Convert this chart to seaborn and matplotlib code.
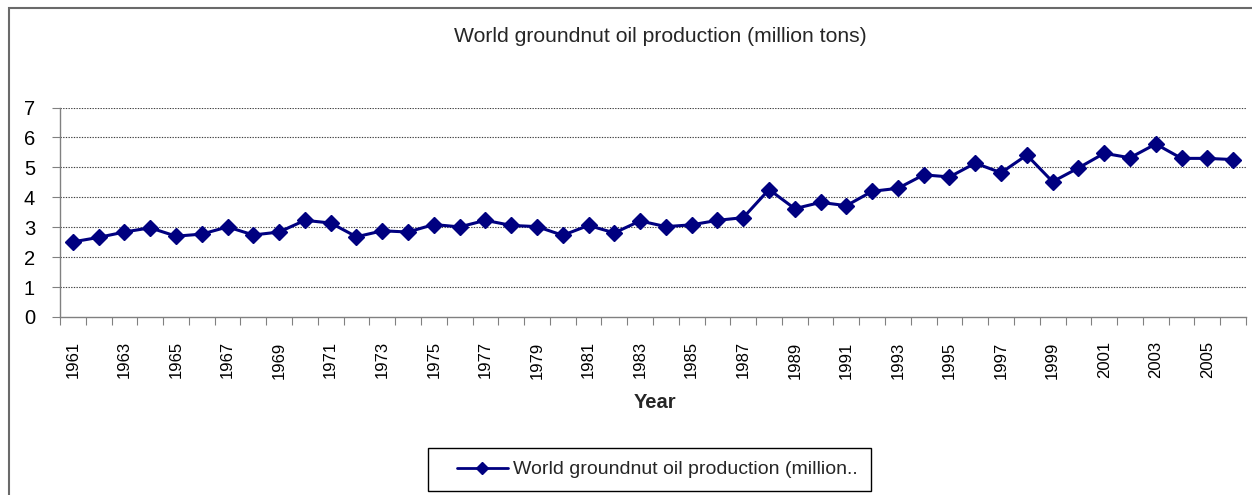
import matplotlib
matplotlib.use("Agg")
import matplotlib.pyplot as plt
from matplotlib.patches import Rectangle
from matplotlib.lines import Line2D
import seaborn as sns
import pandas as pd

# World groundnut oil production, million tons
years = list(range(1961, 2007))
production = [
    2.51, 2.66, 2.84, 2.98, 2.70, 2.77, 3.01, 2.74, 2.84, 3.23,
    3.14, 2.68, 2.88, 2.84, 3.09, 3.01, 3.23, 3.06, 3.02, 2.73,
    3.06, 2.81, 3.21, 3.02, 3.08, 3.23, 3.32, 4.26, 3.62, 3.83,
    3.72, 4.20, 4.30, 4.75, 4.68, 5.14, 4.82, 5.41, 4.52, 4.98,
    5.47, 5.32, 5.78, 5.30, 5.30, 5.26,
]
title = "World groundnut oil production (million tons)"
series_label = "World groundnut oil production (million.."
x_label = "Year"
y_ticks = [0, 1, 2, 3, 4, 5, 6, 7]
x_tick_years = list(range(1961, 2006, 2))

df = pd.DataFrame({"year": years, "production": production})

sns.set_theme(style="white")
plt.rcParams["font.family"] = ["Liberation Sans", "DejaVu Sans"]

W, H = 1252, 495
fig = plt.figure(figsize=(W / 100, H / 100), dpi=100)
fig.patch.set_facecolor("white")

left, right, top, bottom = 60, 1246, 107.5, 317
ax = fig.add_axes([left / W, 1 - bottom / H, (right - left) / W, (bottom - top) / H])

navy = "#000080"
sns.lineplot(data=df, x="year", y="production", ax=ax, color=navy,
             marker="D", markersize=8, markeredgecolor=navy,
             markeredgewidth=1, linewidth=2.2, label=series_label, legend=False)

ax.set_xlim(1960.5, 2006.5)
ax.set_ylim(0, 7)

# y axis
ax.set_yticks(y_ticks)
ax.tick_params(axis="y", which="major", direction="out", length=6, width=0.8,
               color="#808080", pad=12, labelsize=14.5, labelcolor="black", left=True)

# x axis: labels at every other year, tick marks between categories
ax.set_xticks(x_tick_years)
ax.set_xticklabels([str(y) for y in x_tick_years], rotation=90)
ax.set_xticks([y - 0.5 for y in years] + [years[-1] + 0.5], minor=True)
ax.tick_params(axis="x", which="major", length=0, pad=17.5, labelsize=12,
               labelcolor="black")
ax.tick_params(axis="x", which="minor", direction="out", length=6, width=0.8,
               color="#808080", bottom=True)

for side in ["top", "right"]:
    ax.spines[side].set_visible(False)
for side in ["left", "bottom"]:
    ax.spines[side].set_color("#808080")
    ax.spines[side].set_linewidth(1.0)

# dotted horizontal gridlines
ax.grid(False)
for yv in y_ticks[1:]:
    ax.axhline(yv, color="#404040", linewidth=0.8, linestyle=(0, (1.2, 1.2)),
               zorder=0)

ax.set_xlabel(x_label, fontsize=14.5, fontweight="bold")
ax.xaxis.label.set_va("baseline")
ax.xaxis.set_label_coords((655 - left) / (right - left), -(408 - bottom) / (bottom - top))
ax.set_ylabel("")

fig.text(660 / W, 1 - 41.7 / H, title, ha="center", va="baseline", fontsize=15.2)

# chart area border
fig.add_artist(Rectangle((9 / W, -0.2), 1.2, 1.2 - 8 / H, transform=fig.transFigure,
                         fill=False, edgecolor="#6a6a6a", linewidth=1.5))

# legend box
fig.add_artist(Rectangle((428 / W, 1 - 491 / H), 443 / W, 43 / H,
                         transform=fig.transFigure, fill=False,
                         edgecolor="black", linewidth=1.0))
handle = Line2D([], [], color=navy, marker="D", markersize=6.5,
                markeredgecolor=navy, linewidth=2)
fig.legend([handle], [series_label], loc="center left",
           bbox_to_anchor=(457 / W, 1 - 469.5 / H), frameon=False,
           fontsize=14, handlelength=2.6, handletextpad=0.3,
           borderpad=0, borderaxespad=0)

fig.savefig("out.png", dpi=100, facecolor="white")
